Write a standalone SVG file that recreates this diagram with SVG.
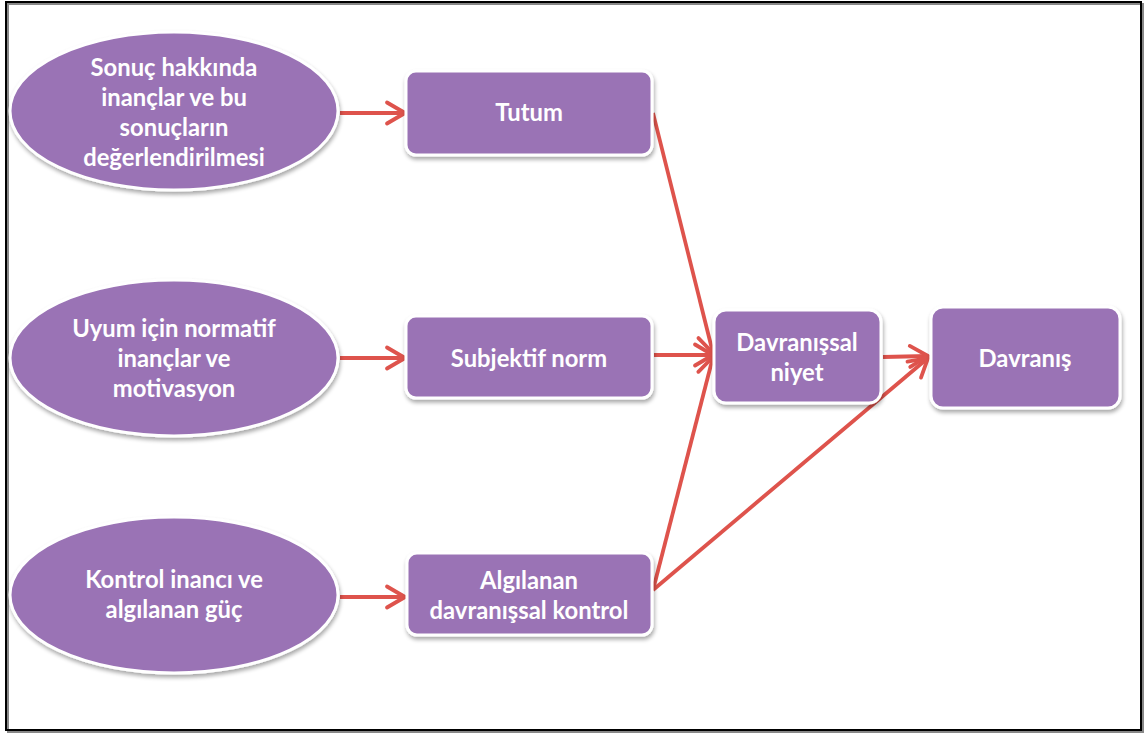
<svg xmlns="http://www.w3.org/2000/svg" width="1145" height="733" viewBox="0 0 1145 733">
  <defs>
    <filter id="shadow" x="-10%" y="-10%" width="125%" height="130%">
      <feGaussianBlur in="SourceAlpha" stdDeviation="2"/>
      <feOffset dx="1" dy="3" result="b"/>
      <feComponentTransfer><feFuncA type="linear" slope="0.35"/></feComponentTransfer>
      <feMerge><feMergeNode/><feMergeNode in="SourceGraphic"/></feMerge>
    </filter>
    <marker id="arrow" viewBox="0 0 28 28" refX="23" refY="14" markerWidth="28" markerHeight="28" markerUnits="userSpaceOnUse" orient="auto">
      <path d="M5,3.5 L23,14 L5,24.5" fill="none" stroke="#DE534C" stroke-width="3.8" stroke-linecap="round" stroke-linejoin="round"/>
    </marker>
    <style>
      .shape { fill: #9A73B5; stroke: #FFFFFF; stroke-width: 3; filter: url(#shadow); }
      .label { font-family: Lato, "Open Sans", "Liberation Sans", sans-serif; font-weight: bold; font-size: 23.8px; fill: #FFFFFF; text-anchor: middle; }
      .conn { fill: none; stroke: #DE534C; stroke-width: 3.8; marker-end: url(#arrow); }
    </style>
  </defs>

  <rect width="1145" height="733" fill="#FFFFFF"/>
  <!-- frame -->
  <rect x="8" y="4" width="1135" height="728" fill="none" stroke="#888888" stroke-width="2"/>
  <rect x="6" y="2" width="1135" height="728" fill="none" stroke="#000000" stroke-width="2"/>

  <g id="connectors">
    <line class="conn" x1="340" y1="113" x2="405" y2="113"/>
    <line class="conn" x1="340" y1="358" x2="405" y2="358"/>
    <line class="conn" x1="340" y1="597" x2="405" y2="597"/>
    <line class="conn" x1="653" y1="113" x2="713" y2="353"/>
    <line class="conn" x1="654" y1="355" x2="713" y2="355"/>
    <line class="conn" x1="653" y1="590" x2="713" y2="357"/>
    <line class="conn" x1="653" y1="590" x2="928" y2="358"/>
    <line class="conn" x1="883" y1="357" x2="928" y2="356"/>
  </g>

  <g id="n-sonuc">
    <ellipse class="shape" cx="174" cy="111" rx="164" ry="79"/>
    <text class="label" x="174" y="76">Sonuç hakkında</text>
    <text class="label" x="174" y="106">inançlar ve bu</text>
    <text class="label" x="174" y="136">sonuçların</text>
    <text class="label" x="174" y="166">değerlendirilmesi</text>
  </g>

  <g id="n-uyum">
    <ellipse class="shape" cx="174" cy="358" rx="164" ry="78"/>
    <text class="label" x="174" y="337">Uyum için normatif</text>
    <text class="label" x="174" y="367">inançlar ve</text>
    <text class="label" x="174" y="397">motivasyon</text>
  </g>

  <g id="n-kontrol">
    <ellipse class="shape" cx="174" cy="595" rx="164" ry="78"/>
    <text class="label" x="174" y="588">Kontrol inancı ve</text>
    <text class="label" x="174" y="618">algılanan güç</text>
  </g>

  <g id="n-tutum">
    <rect class="shape" x="406" y="71" width="246" height="84" rx="10"/>
    <text class="label" x="529" y="121">Tutum</text>
  </g>

  <g id="n-subjektif">
    <rect class="shape" x="406" y="316" width="246" height="82" rx="10"/>
    <text class="label" x="529" y="367">Subjektif norm</text>
  </g>

  <g id="n-algilanan">
    <rect class="shape" x="407" y="553" width="245" height="82" rx="10"/>
    <text class="label" x="529" y="589">Algılanan</text>
    <text class="label" x="529" y="619">davranışsal kontrol</text>
  </g>

  <g id="n-niyet">
    <rect class="shape" x="714" y="310" width="167" height="93" rx="12"/>
    <text class="label" x="797" y="351">Davranışsal</text>
    <text class="label" x="797" y="381">niyet</text>
  </g>

  <g id="n-davranis">
    <rect class="shape" x="931" y="307" width="189" height="101" rx="12"/>
    <text class="label" x="1025" y="367">Davranış</text>
  </g>
</svg>
